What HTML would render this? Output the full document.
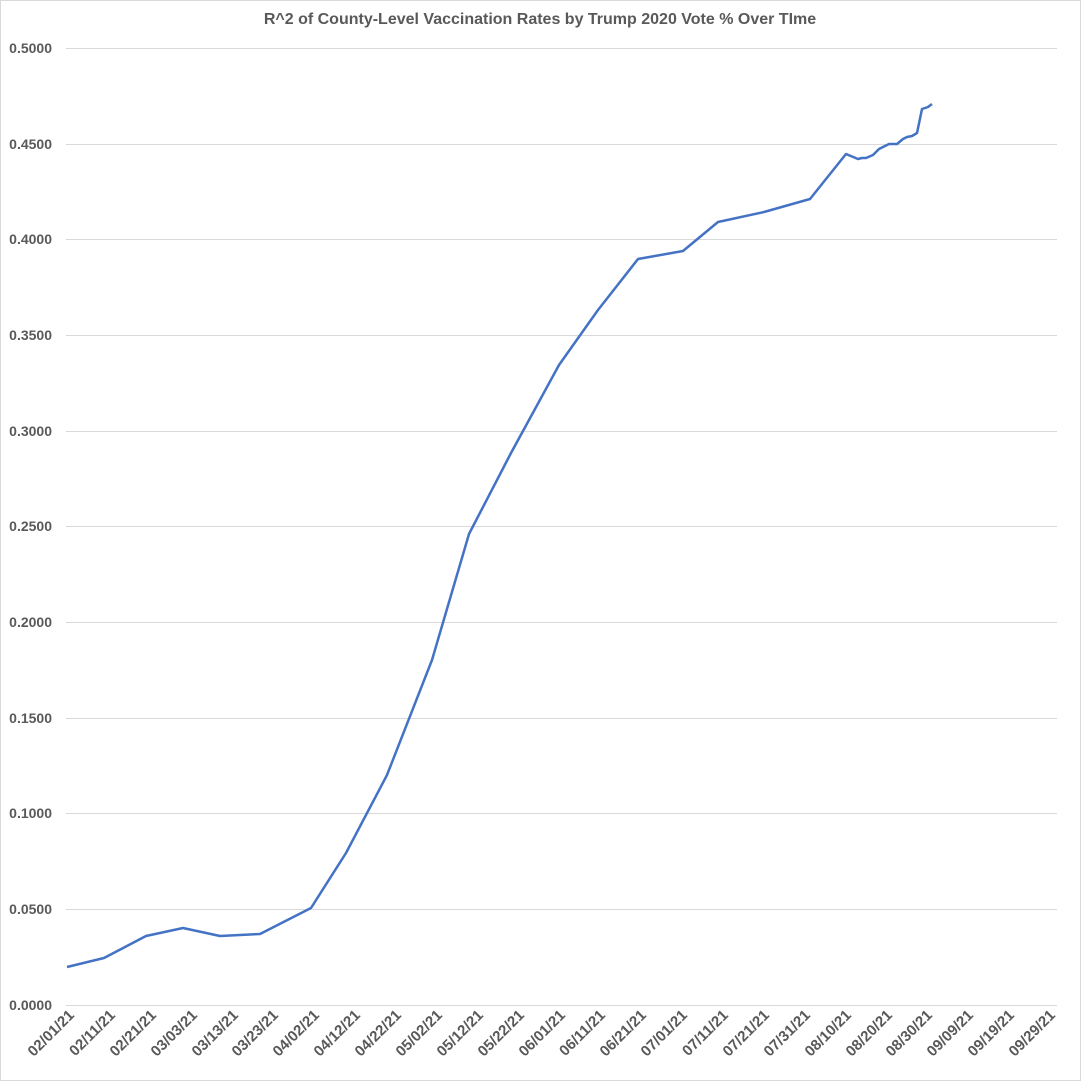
<!DOCTYPE html>
<html><head><style>body{margin:0;background:#fff}svg{display:block}</style></head><body>
<svg width="1081" height="1081" xmlns="http://www.w3.org/2000/svg" font-family="Liberation Sans, sans-serif">
<rect x="0.5" y="0.5" width="1080" height="1080" fill="#fff" stroke="#d9d9d9"/>
<text x="540" y="24" text-anchor="middle" font-size="16" font-weight="bold" fill="#595959">R^2 of County-Level Vaccination Rates by Trump 2020 Vote % Over TIme</text>
<g stroke="#d9d9d9" stroke-width="1">
<line x1="66" x2="1057" y1="48.5" y2="48.5"/><line x1="66" x2="1057" y1="144.5" y2="144.5"/><line x1="66" x2="1057" y1="239.5" y2="239.5"/><line x1="66" x2="1057" y1="335.5" y2="335.5"/><line x1="66" x2="1057" y1="431.5" y2="431.5"/><line x1="66" x2="1057" y1="526.5" y2="526.5"/><line x1="66" x2="1057" y1="622.5" y2="622.5"/><line x1="66" x2="1057" y1="718.5" y2="718.5"/><line x1="66" x2="1057" y1="813.5" y2="813.5"/><line x1="66" x2="1057" y1="909.5" y2="909.5"/><line x1="66" x2="1057" y1="1005.5" y2="1005.5"/>
</g>
<g font-size="14" font-weight="bold" fill="#595959" text-anchor="end">
<text x="52" y="53">0.5000</text><text x="52" y="149">0.4500</text><text x="52" y="244">0.4000</text><text x="52" y="340">0.3500</text><text x="52" y="436">0.3000</text><text x="52" y="531">0.2500</text><text x="52" y="627">0.2000</text><text x="52" y="723">0.1500</text><text x="52" y="818">0.1000</text><text x="52" y="914">0.0500</text><text x="52" y="1010">0.0000</text>
</g>
<g font-size="15" font-weight="bold" fill="#595959" text-anchor="end">
<text transform="translate(75,1016) rotate(-45)">02/01/21</text>
<text transform="translate(116,1016) rotate(-45)">02/11/21</text>
<text transform="translate(157,1016) rotate(-45)">02/21/21</text>
<text transform="translate(198,1016) rotate(-45)">03/03/21</text>
<text transform="translate(239,1016) rotate(-45)">03/13/21</text>
<text transform="translate(279,1016) rotate(-45)">03/23/21</text>
<text transform="translate(320,1016) rotate(-45)">04/02/21</text>
<text transform="translate(361,1016) rotate(-45)">04/12/21</text>
<text transform="translate(402,1016) rotate(-45)">04/22/21</text>
<text transform="translate(443,1016) rotate(-45)">05/02/21</text>
<text transform="translate(484,1016) rotate(-45)">05/12/21</text>
<text transform="translate(525,1016) rotate(-45)">05/22/21</text>
<text transform="translate(566,1016) rotate(-45)">06/01/21</text>
<text transform="translate(606,1016) rotate(-45)">06/11/21</text>
<text transform="translate(647,1016) rotate(-45)">06/21/21</text>
<text transform="translate(688,1016) rotate(-45)">07/01/21</text>
<text transform="translate(729,1016) rotate(-45)">07/11/21</text>
<text transform="translate(770,1016) rotate(-45)">07/21/21</text>
<text transform="translate(811,1016) rotate(-45)">07/31/21</text>
<text transform="translate(852,1016) rotate(-45)">08/10/21</text>
<text transform="translate(893,1016) rotate(-45)">08/20/21</text>
<text transform="translate(933,1016) rotate(-45)">08/30/21</text>
<text transform="translate(974,1016) rotate(-45)">09/09/21</text>
<text transform="translate(1015,1016) rotate(-45)">09/19/21</text>
<text transform="translate(1056,1016) rotate(-45)">09/29/21</text>
</g>
<polyline fill="none" stroke="#4472c4" stroke-width="2.5" stroke-linejoin="round" points="67,967 104,958 146,936 183,928 220,936 260,934 311,908 346,853 387,775 432,660 469,534 511,453 559,365 598,310 638,259 683,251 718,222 764,212 810,199 846,154 858,159 862,158 866,158 873,155 879,149 885,146 889,144 897,144 903,139 907,137 912,136 917,133 922,109 928,107 932,104"/>
</svg>
</body></html>
